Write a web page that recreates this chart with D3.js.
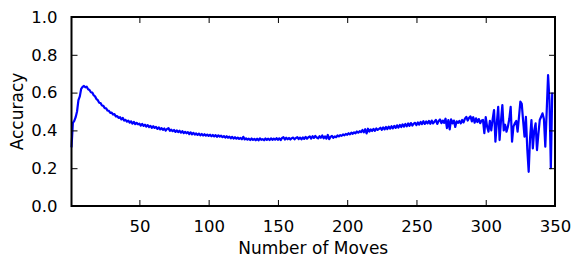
<!DOCTYPE html>
<html>
<head>
<meta charset="utf-8">
<script src="https://cdnjs.cloudflare.com/ajax/libs/d3/7.8.5/d3.min.js"></script>
<style>
  body { margin:0; background:#fff; }
  svg text { font-family: "DejaVu Sans", sans-serif; fill:#000; }
</style>
</head>
<body>
<svg id="drawing_region"></svg>
<script>
// accuracy for moves 1..348
const accuracy = [
  0.31, 0.44, 0.45, 0.47, 0.50, 0.56, 0.58, 0.62, 0.63, 0.635,
  0.628, 0.631, 0.618, 0.614, 0.602, 0.600, 0.586, 0.580, 0.566, 0.560,
  0.546, 0.544, 0.532, 0.530, 0.518, 0.517, 0.505, 0.503, 0.493, 0.494,
  0.484, 0.486, 0.474, 0.476, 0.466, 0.470, 0.458, 0.466, 0.452, 0.456,
  0.446, 0.452, 0.441, 0.448, 0.436, 0.445, 0.433, 0.440, 0.432, 0.436,
  0.425, 0.434, 0.424, 0.430, 0.420, 0.428, 0.418, 0.424, 0.414, 0.422,
  0.413, 0.418, 0.408, 0.416, 0.405, 0.412, 0.403, 0.410, 0.399, 0.408,
  0.412, 0.398, 0.404, 0.396, 0.402, 0.392, 0.400, 0.391, 0.398, 0.388,
  0.396, 0.386, 0.392, 0.385, 0.391, 0.381, 0.390, 0.379, 0.387, 0.378,
  0.384, 0.376, 0.383, 0.374, 0.381, 0.373, 0.380, 0.372, 0.378, 0.371,
  0.377, 0.369, 0.376, 0.368, 0.375, 0.366, 0.374, 0.367, 0.372, 0.364,
  0.370, 0.362, 0.369, 0.361, 0.367, 0.358, 0.366, 0.357, 0.364, 0.356,
  0.362, 0.355, 0.360, 0.353, 0.366, 0.352, 0.358, 0.351, 0.356, 0.349,
  0.357, 0.350, 0.355, 0.348, 0.356, 0.347, 0.358, 0.350, 0.354, 0.348,
  0.357, 0.350, 0.356, 0.349, 0.358, 0.350, 0.357, 0.351, 0.359, 0.350,
  0.358, 0.349, 0.360, 0.364, 0.352, 0.361, 0.353, 0.360, 0.352, 0.359,
  0.362, 0.353, 0.360, 0.364, 0.354, 0.362, 0.353, 0.363, 0.355, 0.366,
  0.356, 0.364, 0.368, 0.357, 0.369, 0.360, 0.371, 0.362, 0.358, 0.369,
  0.361, 0.373, 0.358, 0.368, 0.356, 0.376, 0.354, 0.366, 0.371, 0.361,
  0.368, 0.364, 0.373, 0.368, 0.375, 0.371, 0.379, 0.374, 0.381, 0.377,
  0.385, 0.379, 0.388, 0.382, 0.390, 0.385, 0.394, 0.388, 0.396, 0.391,
  0.402, 0.390, 0.406, 0.384, 0.409, 0.394, 0.405, 0.397, 0.408, 0.398,
  0.410, 0.403, 0.408, 0.414, 0.403, 0.416, 0.405, 0.418, 0.407, 0.420,
  0.409, 0.422, 0.411, 0.424, 0.413, 0.427, 0.415, 0.429, 0.418, 0.432,
  0.420, 0.434, 0.422, 0.437, 0.424, 0.439, 0.426, 0.436, 0.440, 0.428,
  0.442, 0.431, 0.445, 0.433, 0.449, 0.434, 0.447, 0.437, 0.450, 0.435,
  0.452, 0.437, 0.446, 0.456, 0.434, 0.450, 0.458, 0.438, 0.452, 0.440,
  0.462, 0.412, 0.455, 0.405, 0.458, 0.437, 0.452, 0.418, 0.448, 0.440,
  0.450, 0.437, 0.455, 0.442, 0.462, 0.472, 0.452, 0.467, 0.474, 0.448,
  0.470, 0.441, 0.464, 0.444, 0.460, 0.438, 0.452, 0.455, 0.385, 0.47,
  0.42, 0.393, 0.45, 0.40, 0.46, 0.508, 0.34, 0.44, 0.525, 0.349,
  0.45, 0.534, 0.40, 0.43, 0.393, 0.42, 0.46, 0.525, 0.34, 0.42,
  0.437, 0.45, 0.393, 0.47, 0.552, 0.54, 0.45, 0.367, 0.472, 0.30,
  0.181, 0.36, 0.455, 0.305, 0.40, 0.437, 0.296, 0.38, 0.455, 0.472,
  0.49, 0.46, 0.314, 0.50, 0.693, 0.56, 0.20, 0.60
];
const moves = accuracy.map((d, i) => i + 1);
const xTicks = [50, 100, 150, 200, 250, 300, 350];
const yTicks = [0.0, 0.2, 0.4, 0.6, 0.8, 1.0];

const config = {
    parent: '#drawing_region',
    width: 574,
    height: 256,
    margin: {top:17, right:19, bottom:50, left:71.5}
};

class LineChart {
    constructor (config, data) {
	this.config = config;
	this.data = data;
	this.init();
    }
    init() {
	let self = this;
	self.svg = d3.select(self.config.parent)
	    .attr('width', self.config.width)
	    .attr('height', self.config.height);
	self.chart = self.svg.append('g')
	    .attr('transform', `translate(${self.config.margin.left}, ${self.config.margin.top})`);
	self.inner_width = self.config.width - self.config.margin.left - self.config.margin.right;
	self.inner_height = self.config.height - self.config.margin.top - self.config.margin.bottom;

	self.xscale = d3.scaleLinear()
	    .domain([1, 350])
	    .range([0, self.inner_width]);
	self.yscale = d3.scaleLinear()
	    .domain([0, 1])
	    .range([self.inner_height, 0]);
    }
    render() {
	let self = this;
	const tick = 6;
	const fmt = d3.format('.1f');

	// line
	const line = d3.line()
	    .x(d => self.xscale(d.x))
	    .y(d => self.yscale(d.y));
	self.chart.append('path')
	    .datum(self.data)
	    .attr('d', line)
	    .attr('fill', 'none')
	    .attr('stroke', '#0000ff')
	    .attr('stroke-width', 2.2)
	    .attr('stroke-linejoin', 'round');

	// axes, ticks pointing inward on all sides
	const bottom = d3.axisBottom(self.xscale).tickValues(xTicks)
	    .tickSizeInner(-tick).tickSizeOuter(0).tickPadding(14);
	const top = d3.axisTop(self.xscale).tickValues(xTicks)
	    .tickSizeInner(-tick).tickSizeOuter(0).tickFormat('');
	const left = d3.axisLeft(self.yscale).tickValues(yTicks)
	    .tickSizeInner(-tick).tickSizeOuter(0).tickPadding(14).tickFormat(fmt);
	const right = d3.axisRight(self.yscale).tickValues(yTicks)
	    .tickSizeInner(-tick).tickSizeOuter(0).tickFormat('');

	const groups = [
	    self.chart.append('g').attr('transform', `translate(0, ${self.inner_height})`).call(bottom),
	    self.chart.append('g').call(top),
	    self.chart.append('g').call(left),
	    self.chart.append('g').attr('transform', `translate(${self.inner_width}, 0)`).call(right)
	];
	groups.forEach(g => {
	    g.select('.domain').remove();
	    g.selectAll('line').attr('stroke', '#000').attr('stroke-width', 1);
	    g.selectAll('text').style('font-size', '16.5px').attr('fill', '#000');
	});

	// frame
	self.chart.append('rect')
	    .attr('width', self.inner_width)
	    .attr('height', self.inner_height)
	    .attr('fill', 'none')
	    .attr('stroke', '#000')
	    .attr('stroke-width', 2);

	// labels
	self.svg.append('text')
	    .attr('x', self.config.margin.left + self.inner_width / 2)
	    .attr('y', 253.5)
	    .attr('text-anchor', 'middle')
	    .style('font-size', '17px')
	    .text('Number of Moves');
	self.svg.append('text')
	    .attr('transform', `translate(23, ${self.config.margin.top + self.inner_height / 2}) rotate(-90)`)
	    .attr('text-anchor', 'middle')
	    .style('font-size', '17px')
	    .text('Accuracy');
    }
}

const data = moves.map((m, i) => ({x: m, y: accuracy[i]}));
const chart = new LineChart(config, data);
chart.render();
</script>
</body>
</html>
